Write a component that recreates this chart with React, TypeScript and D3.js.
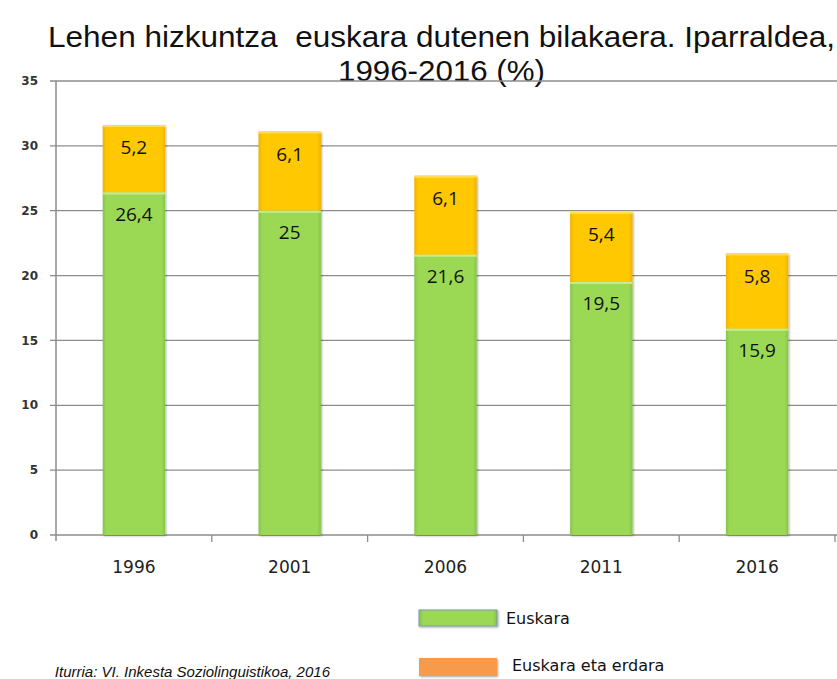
import * as d3 from "d3";
import React from "react";

const years = ["1996", "2001", "2006", "2011", "2016"];
const euskara = [26.4, 25, 21.6, 19.5, 15.9];
const biak = [5.2, 6.1, 6.1, 5.4, 5.8];
const yTicks = [0, 5, 10, 15, 20, 25, 30, 35];

const fmt = (v: number) => String(v).replace(".", ",");

export default function App() {
  const width = 837;
  const height = 679;

  const x = d3.scaleBand().domain(years).range([56, 835]).paddingInner(0.6).paddingOuter(0.3);
  const y = d3.scaleLinear().domain([0, 35]).range([535, 81]);

  return (
    <svg
      width={width}
      height={height}
      style={{ position: "absolute", left: 0, top: 0, background: "#fff" }}
    >
      <defs>
        <linearGradient id="gGreen" x1="0" x2="1" y1="0" y2="0">
          <stop offset="0" stopColor="#86c44a" />
          <stop offset="0.06" stopColor="#9bd955" />
          <stop offset="0.94" stopColor="#9bd955" />
          <stop offset="1" stopColor="#86c44a" />
        </linearGradient>
        <linearGradient id="gOrange" x1="0" x2="1" y1="0" y2="0">
          <stop offset="0" stopColor="#eeb300" />
          <stop offset="0.06" stopColor="#ffc800" />
          <stop offset="0.94" stopColor="#ffc800" />
          <stop offset="1" stopColor="#eeb300" />
        </linearGradient>
        <filter id="shadow" x="-20%" y="-20%" width="140%" height="140%">
          <feDropShadow dx="1" dy="1" stdDeviation="1" floodColor="#000" floodOpacity="0.35" />
        </filter>
      </defs>

      {/* title */}
      <g
        fontFamily="'Liberation Sans Narrow', 'Arial Narrow', 'Liberation Sans', sans-serif"
        fontSize={29}
        fill="#111"
      >
        <text x={48} y={47} textLength={787} lengthAdjust="spacingAndGlyphs" xmlSpace="preserve">
          {"Lehen hizkuntza  euskara dutenen bilakaera. Iparraldea,"}
        </text>
        <text x={338} y={81} textLength={207} lengthAdjust="spacingAndGlyphs">1996-2016 (%)</text>
      </g>

      {/* grid */}
      {yTicks.map((t) => (
        <g key={t}>
          <line x1={50} x2={837} y1={y(t)} y2={y(t)} stroke="#8c8c8c" strokeWidth={1.3} />
          <text
            x={38}
            y={y(t)}
            dy="0.35em"
            textAnchor="end"
            fontFamily="'DejaVu Sans', sans-serif"
            fontSize={12}
            fontWeight="bold"
            fill="#333"
          >
            {t}
          </text>
        </g>
      ))}

      {/* axes */}
      <line x1={56} x2={56} y1={y(35)} y2={y(0) + 6} stroke="#8c8c8c" strokeWidth={1.5} />
      {years.map((yr) => {
        const e = (x(yr) as number) + x.bandwidth() + (x.step() * x.paddingInner()) / 2;
        return <line key={yr} x1={e} x2={e} y1={y(0)} y2={y(0) + 7} stroke="#8c8c8c" strokeWidth={1.3} />;
      })}

      {/* bars */}
      {years.map((yr, i) => {
        const bx = x(yr) as number;
        const bw = x.bandwidth();
        const cx = bx + bw / 2;
        const total = euskara[i] + biak[i];
        return (
          <g key={yr}>
            <g filter="url(#shadow)">
              <rect x={bx} y={y(euskara[i])} width={bw} height={y(0) - y(euskara[i])} fill="url(#gGreen)" />
              <rect x={bx} y={y(total)} width={bw} height={y(euskara[i]) - y(total)} fill="url(#gOrange)" />
            </g>
            <line x1={bx} x2={bx + bw} y1={y(euskara[i]) + 1} y2={y(euskara[i]) + 1} stroke="#c4ec8c" strokeWidth={2} />
            <line x1={bx} x2={bx + bw} y1={y(total) + 1} y2={y(total) + 1} stroke="#ffdc55" strokeWidth={2} />
            <g fontFamily="'Open Sans', 'Liberation Sans', sans-serif" fontSize={19} fill="#111" textAnchor="middle">
              <text x={cx} y={y(total) + 29}>{fmt(biak[i])}</text>
              <text x={cx} y={y(euskara[i]) + 28}>{fmt(euskara[i])}</text>
            </g>
            <text
              x={cx}
              y={573}
              textAnchor="middle"
              fontFamily="'DejaVu Sans', sans-serif"
              fontSize={17}
              fill="#222"
            >
              {yr}
            </text>
          </g>
        );
      })}

      {/* legend */}
      <g filter="url(#shadow)">
        <rect x={419} y={610} width={78} height={16} fill="url(#gGreen)" stroke="#7a9ab0" strokeWidth={1} />
        <rect x={419} y={658} width={78} height={18} fill="#f79a4a" />
      </g>
      <g fontFamily="'DejaVu Sans', sans-serif" fontSize={16} fill="#111">
        <text x={506} y={624}>Euskara</text>
        <text x={512} y={671}>Euskara eta erdara</text>
      </g>

      {/* source */}
      <text
        x={330}
        y={677}
        textAnchor="end"
        fontFamily="'Liberation Sans', sans-serif"
        fontSize={15}
        fontStyle="italic"
        fill="#111"
      >
        Iturria: VI. Inkesta Soziolinguistikoa, 2016
      </text>
    </svg>
  );
}
